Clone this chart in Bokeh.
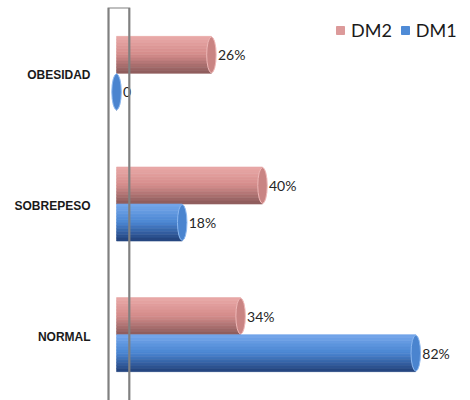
from bokeh.plotting import figure
from bokeh.models import ColumnDataSource, FactorRange, Range1d, BoxAnnotation, Legend, LegendItem
from bokeh.transform import dodge
from bokeh.core.properties import value
from bokeh.embed import file_html
from bokeh.resources import INLINE

# ---- data ----
categories = ["OBESIDAD", "SOBREPESO", "NORMAL"]
series = ["DM2", "DM1"]
dm2_values = [26, 40, 34]
dm1_values = [0, 18, 82]
dm2_labels = ["26%", "40%", "34%"]
dm1_labels = ["0", "18%", "82%"]

# ---- style ----
def mix(c1, c2, t):
    a = [int(c1[i:i + 2], 16) for i in (1, 3, 5)]
    b = [int(c2[i:i + 2], 16) for i in (1, 3, 5)]
    return "#%02x%02x%02x" % tuple(round(a[k] + (b[k] - a[k]) * t) for k in range(3))

styles = {
    "DM2": dict(top="#eaa9a8", mid="#d48c8b", bot="#8a5a5a", cap="#c98483", rim="#efb8b7", legend="#dc9a9a"),
    "DM1": dict(top="#76a8ec", mid="#4a86d2", bot="#22407a", cap="#4a84cf", rim="#8cb8f0", legend="#4f8bd6"),
}

factors = [(c, s) for c in categories for s in series][::-1]   # bottom -> top
y_range = FactorRange(factors=factors, factor_padding=0.0, group_padding=1.53,
                      range_padding=0.78, range_padding_units="absolute")

p = figure(width=470, height=400, x_range=Range1d(-31.8, 97.0), y_range=y_range,
           output_backend="svg", toolbar_location=None,
           x_axis_location=None, y_axis_location=None,
           min_border_left=0, min_border_right=0, min_border_bottom=0, min_border_top=7)
p.outline_line_color = None
p.grid.visible = False
p.background_fill_color = "white"
p.border_fill_color = "white"

# back wall of the 3D chart (its bottom edge lies below the visible area)
p.add_layout(BoxAnnotation(left=-2.2, right=3.5, bottom=-2.0, fill_alpha=0,
                           line_color="#808080", line_alpha=1.0, line_width=2.2))

n = 12
legend_items = []
for s, vals, labs in (("DM2", dm2_values, dm2_labels), ("DM1", dm1_values, dm1_labels)):
    st = styles[s]
    src = ColumnDataSource(dict(y=[(c, s) for c in categories], v=vals, lab=labs))
    for i in range(n):
        t = (i + 0.5) / n
        if t < 0.5:
            col = mix(st["top"], st["mid"], t / 0.5)
        else:
            col = mix(st["mid"], st["bot"], (t - 0.5) / 0.5)
        off = 0.5 - (i + 0.5) / n
        p.hbar(y=dodge("y", off, range=y_range), left=0, right="v", height=1.0 / n,
               fill_color=col, line_color=col, line_width=0.6, source=src)
    # end cap of the cylinder
    p.ellipse(x="v", y="y", width=2.6, height=0.97, fill_color=st["cap"],
              line_color=st["rim"], line_width=1, source=src)
    # value labels
    p.text(x="v", y="y", text="lab", x_offset=6.5, text_align="left", text_baseline="middle",
           text_font=value("Lato"), text_font_size="14px", text_color="#262626", source=src)
    # legend swatch renderer (invisible in the plot)
    lr = p.hbar(y=[(categories[0], s)], left=[0], right=[0], height=0.0,
                fill_color=st["legend"], line_color=st["legend"])
    legend_items.append(LegendItem(label=s, renderers=[lr]))

# category labels
cat_src = ColumnDataSource(dict(cat=categories, x=[0] * len(categories)))
p.text(x="x", y="cat", text="cat", x_offset=-26, y_offset=2, text_align="right",
       text_baseline="middle", text_font=value("Liberation Sans"), text_font_style="bold",
       text_font_size="12px", text_color="#1a1a1a", source=cat_src)

legend = Legend(items=legend_items, orientation="horizontal", location=(335, 359),
                border_line_color=None, background_fill_alpha=0,
                label_text_font="Lato", label_text_font_size="18px", label_text_color="#1a1a1a",
                glyph_width=10, glyph_height=10, label_standoff=6, spacing=8,
                padding=0, margin=0)
p.add_layout(legend)

open("out.html", "w").write(file_html(p, INLINE))
